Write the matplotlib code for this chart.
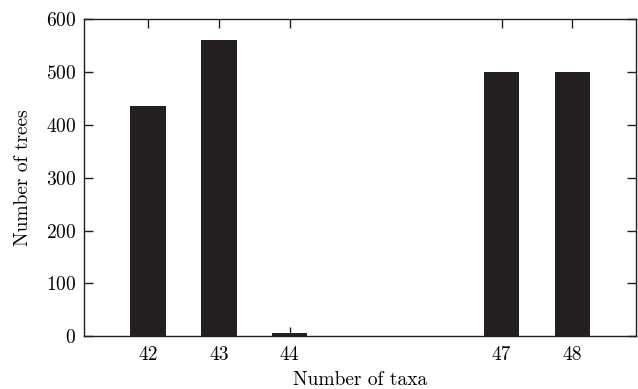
import matplotlib
matplotlib.use("Agg")
import matplotlib.pyplot as plt

plt.rcParams['font.family'] = ['cmr10', 'DejaVu Serif']
plt.rcParams['axes.formatter.use_mathtext'] = True
plt.rcParams['mathtext.fontset'] = 'cm'

taxa = [42, 43, 44, 47, 48]
trees = [436, 561, 5, 501, 501]
yticks = [0, 100, 200, 300, 400, 500, 600]

fig = plt.figure(figsize=(6.38, 3.89), dpi=100)
ax = fig.add_axes([0.1324, 0.1362, 0.9969 - 0.1324, 0.9499 - 0.1362])
ax.bar(taxa, trees, width=0.5, color='#231f20', edgecolor='none')
ax.set_xlim(41.1, 48.9)
ax.set_ylim(0, 600)
ax.set_xticks(taxa)
ax.set_xticklabels([str(t) for t in taxa])
ax.set_yticks(yticks)
for s in ax.spines.values():
    s.set_linewidth(1.0)
    s.set_color('#231f20')
ax.tick_params(direction='in', length=6.5, width=1.0, top=True, right=True,
               labelsize=14, pad=7, color='#231f20')
ax.tick_params(axis='y', pad=6)
ax.set_xlabel('Number of taxa', fontsize=14, labelpad=5)
ax.set_ylabel('Number of trees', fontsize=14, labelpad=10)
fig.savefig('out.png', dpi=100)
